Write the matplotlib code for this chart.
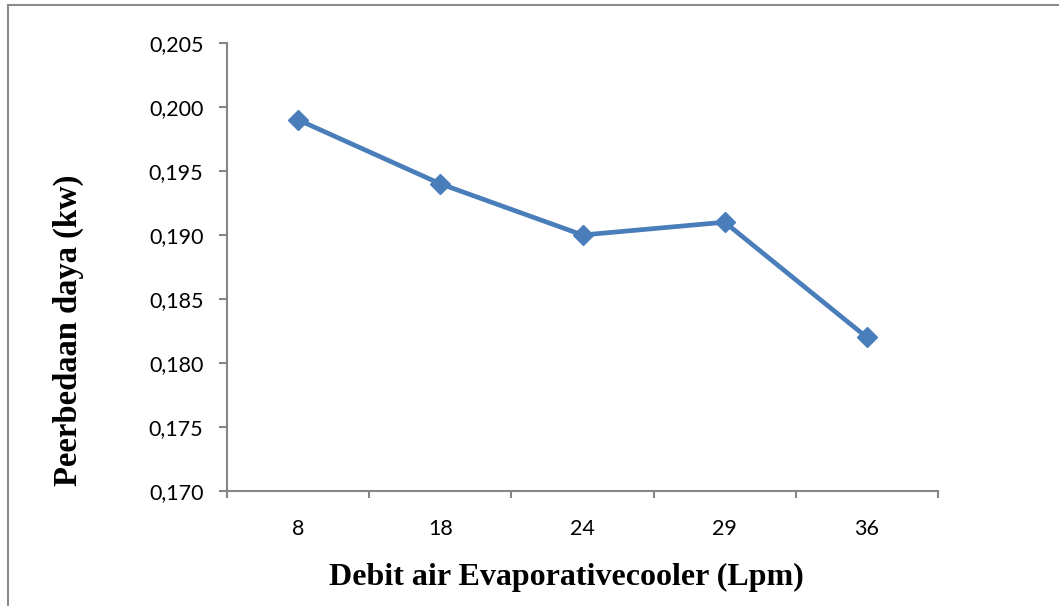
import matplotlib.pyplot as plt
from matplotlib.lines import Line2D
from matplotlib.ticker import FixedLocator, FuncFormatter

# data
debit = ['8', '18', '24', '29', '36']
daya = [0.199, 0.194, 0.190, 0.191, 0.182]
y_ticks = [0.170, 0.175, 0.180, 0.185, 0.190, 0.195, 0.200, 0.205]

axis_grey = '#868686'
line_blue = '#4a7ebb'

fig = plt.figure(figsize=(10.59, 6.06), dpi=100)
ax = fig.add_axes([227 / 1059, 1 - 491 / 606, 711 / 1059, 448 / 606])

x = list(range(len(debit)))
ax.plot(x, daya, color=line_blue, linewidth=3.4, marker='D', markersize=10.5,
        markeredgecolor=line_blue, markerfacecolor=line_blue, clip_on=False)

ax.set_xlim(-0.5, len(debit) - 0.5)
ax.set_ylim(0.170, 0.205)
ax.set_yticks(y_ticks)
ax.yaxis.set_major_formatter(FuncFormatter(lambda v, p: f'{v:.3f}'.replace('.', ',')))

ax.set_xticks(x)
ax.set_xticklabels(debit)
ax.xaxis.set_minor_locator(FixedLocator([i - 0.5 for i in range(len(debit) + 1)]))

for s in ['top', 'right']:
    ax.spines[s].set_visible(False)
for s in ['left', 'bottom']:
    ax.spines[s].set_color(axis_grey)
    ax.spines[s].set_linewidth(1.5)

ax.tick_params(axis='y', direction='out', length=6, width=1.5, color=axis_grey,
               pad=11, labelsize=15.5)
ax.tick_params(axis='x', which='major', length=0, pad=20, labelsize=15.5)
ax.tick_params(axis='x', which='minor', direction='out', length=5, width=1.5,
               color=axis_grey)
for lab in ax.get_xticklabels() + ax.get_yticklabels():
    lab.set_fontfamily('Lato')

fig.text(566 / 1059, 1 - 577 / 606, 'Debit air Evaporativecooler (Lpm)',
         ha='center', va='center', fontsize=23, fontweight='bold',
         family='Liberation Serif')
fig.text(68 / 1059, 1 - 330 / 606, 'Peerbedaan daya (kw)', rotation=90,
         ha='center', va='center', fontsize=23.5, fontweight='bold',
         family='Liberation Serif')

# outer chart frame (only top and left edges show in the crop)
fig.add_artist(Line2D([8 / 1059, 8 / 1059], [0, 1 - 5 / 606], transform=fig.transFigure,
                      color='#8c8c8c', linewidth=1.5))
fig.add_artist(Line2D([8 / 1059, 1], [1 - 5 / 606, 1 - 5 / 606], transform=fig.transFigure,
                      color='#8c8c8c', linewidth=1.5))

fig.savefig('out.png', dpi=100)
